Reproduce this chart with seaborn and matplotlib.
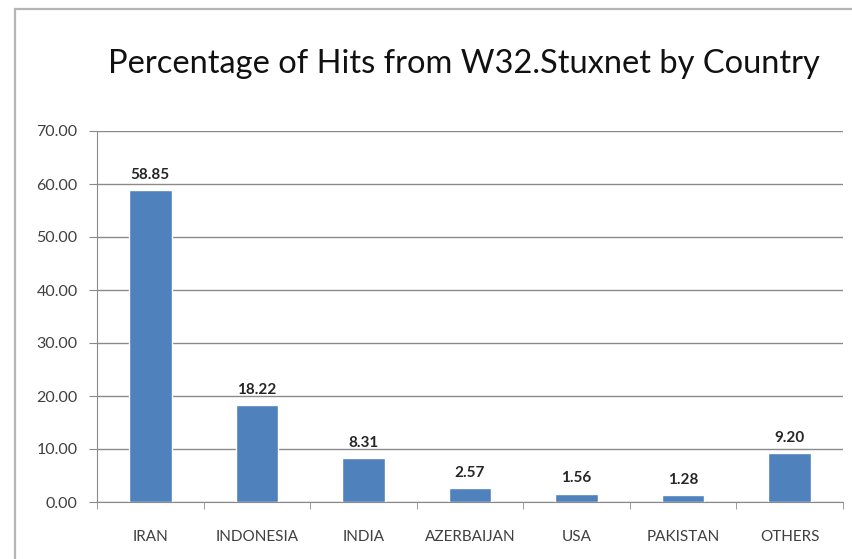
import numpy as np
import pandas as pd
import matplotlib
matplotlib.use("Agg")
import matplotlib.pyplot as plt
import seaborn as sns
from matplotlib.patches import Rectangle

countries = ["IRAN", "INDONESIA", "INDIA", "AZERBAIJAN", "USA", "PAKISTAN", "OTHERS"]
hits_pct = [58.85, 18.22, 8.31, 2.57, 1.56, 1.28, 9.20]
y_ticks = [0, 10, 20, 30, 40, 50, 60, 70]

sns.set_style("white")
plt.rcParams["font.family"] = ["Lato", "DejaVu Sans"]

df = pd.DataFrame({"country": countries, "pct": hits_pct})

fig = plt.figure(figsize=(8.52, 5.59), dpi=100)
ax = fig.add_axes([97 / 852, 1 - 502 / 559, (843 - 97) / 852, (502 - 131) / 559])

# chart frame (box cut off at right/bottom like the screenshot)
fig.patches.append(Rectangle((15 / 852, -0.05), 1.0, 1 - 9 / 559 + 0.05,
                             transform=fig.transFigure, fill=False,
                             edgecolor="#b5b5b5", linewidth=1.6, zorder=0))

sns.barplot(data=df, x="country", y="pct", color="#4f81bd", width=0.4,
            saturation=1, ax=ax, zorder=3)

ax.set_ylim(0, 70)
ax.set_xlim(-0.5, len(countries) - 0.5)
ax.set_yticks(y_ticks)
ax.set_yticklabels([f"{v:.2f}" for v in y_ticks], fontsize=11.5, color="#404040")
ax.yaxis.grid(True, color="#8a8a8a", linewidth=1)
ax.set_axisbelow(True)

# category labels, with tick marks between categories
ax.set_xticks(range(len(countries)))
ax.set_xticklabels(countries, fontsize=11, color="#404040")
ax.tick_params(axis="x", length=0, pad=20)
ax.set_xticks(np.arange(-0.5, len(countries)), minor=True)
ax.tick_params(axis="x", which="minor", length=5, color="#8a8a8a", direction="out")
ax.tick_params(axis="y", length=6, color="#8a8a8a", direction="out", pad=8)
ax.yaxis.set_tick_params(left=True)
ax.xaxis.set_tick_params(which="minor", bottom=True)

for side in ["top", "right"]:
    ax.spines[side].set_visible(False)
ax.spines["left"].set_color("#8a8a8a")
ax.spines["bottom"].set_color("#8a8a8a")
ax.set_xlabel("")
ax.set_ylabel("")

for container in ax.containers:
    ax.bar_label(container, fmt="%.2f", padding=6, fontsize=11,
                 fontweight="bold", color="#262626")

fig.text(464 / 852, 1 - 64 / 559, "Percentage of Hits from W32.Stuxnet by Country",
         ha="center", va="center", fontsize=23.5, color="#111111")

fig.savefig("out.png", dpi=100)
plt.close(fig)
